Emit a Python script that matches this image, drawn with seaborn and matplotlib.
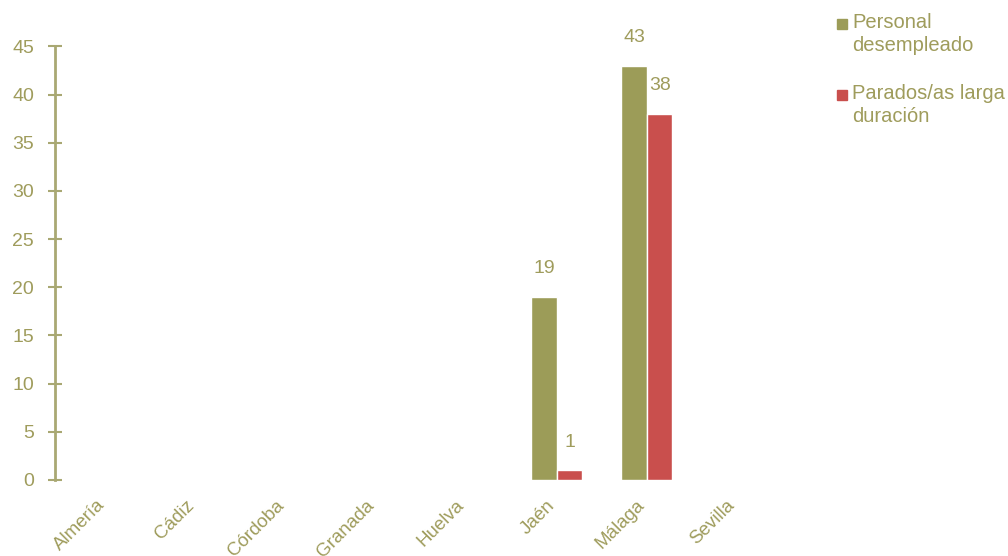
import pandas as pd
import seaborn as sns
import matplotlib.pyplot as plt
from matplotlib.patches import Rectangle
from matplotlib.transforms import ScaledTranslation

provincias = ['Almería', 'Cádiz', 'Córdoba', 'Granada', 'Huelva', 'Jaén', 'Málaga', 'Sevilla']
series = ['Personal\ndesempleado', 'Parados/as larga\nduración']
personal_desempleado = [0, 0, 0, 0, 0, 19, 43, 0]
parados_larga = [0, 0, 0, 0, 0, 1, 38, 0]

colores = ['#9c9c58', '#c94f4d']
texto = '#9f9c5c'
eje = '#a9a873'

df = pd.DataFrame({
    'provincia': provincias * 2,
    'serie': [series[0]] * len(provincias) + [series[1]] * len(provincias),
    'valor': personal_desempleado + parados_larga,
})

sns.set_theme(style='white')
plt.rcParams['font.family'] = ['Liberation Sans', 'DejaVu Sans']

fig = plt.figure(figsize=(10.08, 5.56), dpi=100)
ax = fig.add_axes([0.0546, 0.1367, 0.714, 0.78])

sns.barplot(data=df, x='provincia', y='valor', hue='serie', palette=colores,
            width=0.57, ax=ax, legend=False, saturation=1)

# etiquetas solo para valores distintos de cero
for cont in ax.containers:
    labels = [f'{v:g}' if v > 0 else '' for v in cont.datavalues]
    ax.bar_label(cont, labels=labels, padding=14, color=texto, fontsize=14)

ax.set_ylim(0, 45)
ax.set_xlim(-0.578, 7.422)
ax.set_yticks(range(0, 46, 5))
ax.set_xlabel('')
ax.set_ylabel('')

for s in ['top', 'right', 'bottom']:
    ax.spines[s].set_visible(False)
ax.spines['left'].set_color(eje)
ax.spines['left'].set_linewidth(2)

ax.tick_params(axis='y', direction='inout', length=10, width=1.5, color=eje,
               labelcolor=texto, labelsize=14, left=True, pad=10)
ax.tick_params(axis='x', length=0, labelcolor=texto, labelsize=13.5, pad=12)
desplaza = ScaledTranslation(-11 / 100, 0, fig.dpi_scale_trans)
for lab in ax.get_xticklabels():
    lab.set_rotation(45)
    lab.set_ha('right')
    lab.set_rotation_mode('anchor')
    lab.set_transform(lab.get_transform() + desplaza)

# leyenda
for i, (c, s) in enumerate(zip(colores, series)):
    top = 13 + 71 * i
    fig.patches.append(Rectangle((837 / 1008, 1 - (top + 16) / 556), 10 / 1008, 10 / 556,
                                 transform=fig.transFigure, color=c))
    fig.text(852 / 1008, 1 - top / 556, s, color=texto, fontsize=14.5, va='top',
             ha='left', linespacing=1.25)

fig.savefig('out.png', dpi=100)
